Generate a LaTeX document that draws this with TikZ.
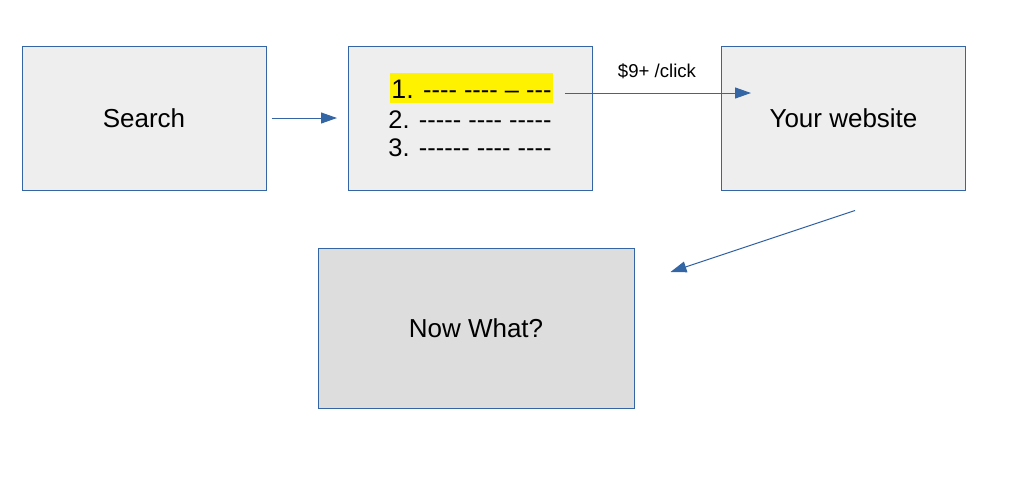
\documentclass[tikz,border=0pt]{standalone}
\usepackage{fontspec}
\setmainfont{Liberation Sans}
\newfontfamily\listfont{Liberation Sans}
\usetikzlibrary{arrows.meta}
\definecolor{boxblue}{HTML}{3465A4}
\definecolor{boxgray}{HTML}{EEEEEE}
\definecolor{darkgray}{HTML}{DDDDDD}

\begin{document}
\begin{tikzpicture}[x=0.5pt,y=-0.5pt,
  box/.style={draw=boxblue,line width=0.5pt,fill=boxgray,
    minimum width=122pt,minimum height=72pt,
    font=\fontsize{13}{15}\selectfont},
  item/.style={anchor=base west,inner sep=0pt,
    font=\listfont\fontsize{12.7}{15}\selectfont},
  flow/.style={draw=boxblue,line width=0.5pt,
    -{Triangle[length=8pt,width=5.5pt]}}]
  \useasboundingbox (0,0) rectangle (1014,488);
  % Boxes
  \node[box] (search) at (144,118) {Search};
  \node[box] (results) at (470.5,118) {};
  \node[box] (web) at (843.5,118) {Your website};
  \node[box,fill=darkgray,minimum width=158pt,minimum height=80pt]
    (now) at (476,328) {Now What?};
  % Result list
  \node[item,fill=yellow,inner xsep=0.5pt,text height=12.5pt,text depth=2.5pt]
    (item1) at (390,98) {{\fontsize{13.4}{15}\selectfont 1.} ---- ---- – ---};
  \node[item] (item2) at (388,128) {2. ----- ---- -----};
  \node[item] (item3) at (388,156) {3. ------ ---- ----};
  % Arrows
  \draw[flow] ([shift={(5,0)}]search.east) -- ([shift={(-11,0)}]results.west);
  \draw[flow] ([shift={(12,5)}]item1.east) -- ([shift={(30,-25)}]web.west);
  \node[font=\fontsize{9.3}{11}\selectfont] (price) at (657,71) {\$9+ /click};
  \draw[flow] ([shift={(11.5,20)}]web.south) -- ([shift={(36,-56)}]now.east);
\end{tikzpicture}
\end{document}
